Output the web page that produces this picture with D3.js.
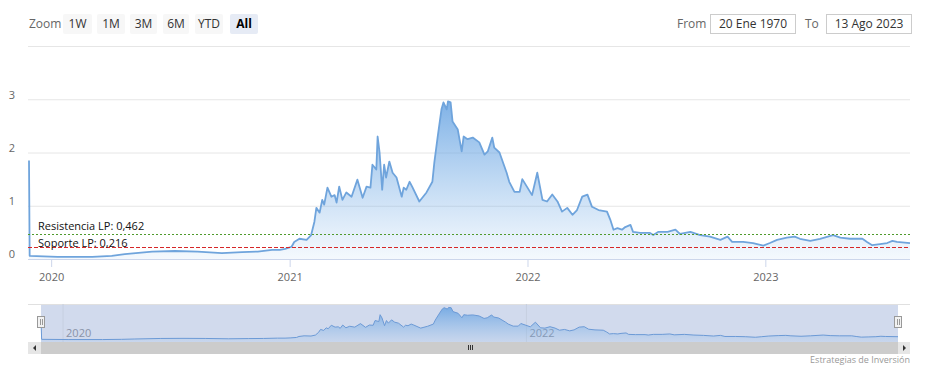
<!DOCTYPE html>
<html>
<head>
<meta charset="utf-8">
<script src="https://cdn.jsdelivr.net/npm/d3@7"></script>
<style>
body { margin: 0; background: #fff; }
text { font-family: "Open Sans", sans-serif; }
</style>
</head>
<body>
<svg id="chart" width="926" height="367"></svg>
<script>
//price data
var dates = ["2019-11-28","2019-11-29","2020-01-11","2020-03-04","2020-04-03","2020-04-23","2020-06-04","2020-07-09",
	"2020-08-13","2020-09-19","2020-10-20","2020-11-13","2020-12-05","2020-12-17","2020-12-25","2021-01-04","2021-01-08",
	"2021-01-16","2021-01-27","2021-02-03","2021-02-08","2021-02-11","2021-02-16","2021-02-20","2021-02-23","2021-02-28",
	"2021-03-06","2021-03-11","2021-03-14","2021-03-18","2021-03-23","2021-03-29","2021-04-06","2021-04-15","2021-04-23",
	"2021-04-29","2021-05-05","2021-05-08","2021-05-14","2021-05-16","2021-05-19","2021-05-23","2021-05-26","2021-05-29",
	"2021-06-03","2021-06-08","2021-06-14","2021-06-22","2021-06-25","2021-06-29","2021-07-04","2021-07-08","2021-07-19",
	"2021-07-30","2021-08-08","2021-08-11","2021-08-16","2021-08-22","2021-08-25","2021-08-30","2021-09-01","2021-09-05",
	"2021-09-08","2021-09-16","2021-09-22","2021-09-25","2021-10-01","2021-10-09","2021-10-19","2021-10-27","2021-11-01",
	"2021-11-08","2021-11-11","2021-11-19","2021-11-30","2021-12-04","2021-12-12","2021-12-20","2021-12-24","2022-01-01",
	"2022-01-08","2022-01-16","2022-01-24","2022-01-31","2022-02-08","2022-02-16","2022-02-23","2022-03-03","2022-03-11",
	"2022-03-18","2022-03-26","2022-04-03","2022-04-10","2022-04-20","2022-05-03","2022-05-08","2022-05-13","2022-05-19",
	"2022-05-26","2022-05-31","2022-06-08","2022-06-12","2022-06-23","2022-07-08","2022-07-13","2022-07-21","2022-08-04",
	"2022-08-16","2022-08-23","2022-09-08","2022-09-23","2022-10-08","2022-10-24","2022-11-04","2022-11-11","2022-11-28",
	"2022-12-13","2022-12-29","2023-01-08","2023-01-19","2023-02-03","2023-02-15","2023-02-23","2023-03-11","2023-03-26",
	"2023-04-15","2023-04-26","2023-05-11","2023-05-30","2023-06-06","2023-06-14","2023-06-26","2023-07-07","2023-07-15",
	"2023-07-22","2023-08-11"];
var prices = [1.85,0.06,0.04,0.04,0.06,0.09,0.14,0.15,
	0.14,0.11,0.13,0.14,0.17,0.17,0.19,0.23,0.32,
	0.38,0.36,0.45,0.70,0.96,0.87,1.11,1.02,1.34,
	1.17,1.20,1.06,1.36,1.11,1.25,1.17,1.49,1.15,
	1.36,1.34,1.77,1.68,2.30,2.00,1.30,1.77,1.53,
	1.83,1.62,1.53,1.17,1.34,1.30,1.45,1.36,1.08,
	1.25,1.45,1.81,2.28,2.81,2.94,2.81,2.96,2.94,
	2.58,2.43,2.02,2.30,2.25,2.28,2.19,1.96,2.02,
	2.28,2.09,2.00,1.62,1.45,1.26,1.26,1.50,1.34,
	1.20,1.62,1.11,1.08,1.21,1.08,0.89,0.96,0.83,
	0.92,1.17,1.21,0.98,0.92,0.89,0.74,0.55,0.58,
	0.55,0.60,0.64,0.51,0.49,0.49,0.45,0.51,0.51,
	0.55,0.47,0.51,0.45,0.42,0.36,0.42,0.32,0.32,
	0.30,0.25,0.30,0.36,0.40,0.42,0.38,0.34,0.38,
	0.45,0.40,0.38,0.38,0.32,0.26,0.28,0.30,0.34,
	0.32,0.30];

//axis ticks
var yTicks = [0, 1, 2, 3, 4];
var xTicks = ["2020-01-01", "2021-01-01", "2022-01-01", "2023-01-01"];
var navTicks = ["2020-01-01", "2022-01-01"];

//plot lines
var levelNames = ["Resistencia LP", "Soporte LP"];
var levelValues = [0.462, 0.216];

//range selector
var zoomButtons = ["1W", "1M", "3M", "6M", "YTD", "All"];
var rangeFrom = "20 Ene 1970";
var rangeTo = "13 Ago 2023";
var credit = "Estrategias de Inversión";

//canvas info
var left = 28, right = 910;
var top_ = 46, bottom = 259;
var navTop = 304, navBottom = 342, navLeft = 41, navRight = 898;

var parse = d3.utcParse("%Y-%m-%d");
var chart_data = dates.map(function(d, i) { return {date: parse(d), value: prices[i]}; });

var svg = d3.select("#chart");
var defs = svg.append("defs");

function gradient(id, y1, y2, op, op2) {
	var g = defs.append("linearGradient").attr("id", id)
		.attr("gradientUnits", "userSpaceOnUse")
		.attr("x1", 0).attr("x2", 0).attr("y1", y1).attr("y2", y2);
	g.append("stop").attr("offset", 0).attr("stop-color", "#5d9de0").attr("stop-opacity", op);
	g.append("stop").attr("offset", 1).attr("stop-color", "#7cb2e8").attr("stop-opacity", op2);
}

//Toolbar
function draw_toolbar() {
	var g = svg.append("g");
	g.append("text").attr("x", 29).attr("y", 28).attr("fill", "#666").attr("font-size", 12).text("Zoom");
	var bx = [63, 97, 130, 163, 195, 230];
	var bw = [29, 28, 27, 26, 28, 28];
	zoomButtons.forEach(function(b, i) {
		var sel = b == "All";
		g.append("rect").attr("x", bx[i]).attr("y", 14).attr("width", bw[i]).attr("height", 20)
			.attr("rx", 2).attr("fill", sel ? "#e6ebf5" : "#f7f7f7");
		g.append("text").attr("x", bx[i] + bw[i] / 2).attr("y", 28).attr("text-anchor", "middle")
			.attr("font-size", 12).attr("fill", sel ? "#000" : "#333")
			.attr("font-weight", sel ? "bold" : "normal").text(b);
	});

	g.append("text").attr("x", 677).attr("y", 28).attr("fill", "#666").attr("font-size", 12).text("From");
	g.append("text").attr("x", 805).attr("y", 28).attr("fill", "#666").attr("font-size", 12).text("To");
	[[710, rangeFrom], [826, rangeTo]].forEach(function(b) {
		g.append("rect").attr("x", b[0] + 0.5).attr("y", 14.5).attr("width", 85).attr("height", 19)
			.attr("fill", "#fff").attr("stroke", "#ccc");
		g.append("text").attr("x", b[0] + 43).attr("y", 28).attr("text-anchor", "middle")
			.attr("font-size", 12).attr("fill", "#333").text(b[1]);
	});
}

//Main chart
function draw_main() {
	var x = d3.scaleUtc().domain(d3.extent(chart_data, function(d) { return d.date; })).range([left + 1, right]);
	var y = d3.scaleLinear().domain([0, 4]).range([bottom, top_]);

	var yAxis = svg.append("g")
		.attr("transform", "translate(" + right + ",0)")
		.call(d3.axisLeft(y).tickValues(yTicks).tickSize(right - left).tickPadding(13)
			.tickFormat(function(d) { return d == 4 ? "" : d; }));
	yAxis.select(".domain").remove();
	yAxis.selectAll("line").attr("stroke", "#e6e6e6");
	yAxis.selectAll("text").attr("fill", "#666").attr("font-size", 11).attr("dy", "-0.1em")
		.attr("font-family", "Open Sans");

	gradient("areaFill", y(3), bottom, 0.8, 0.08);

	var area = d3.area()
		.x(function(d) { return x(d.date); })
		.y0(bottom)
		.y1(function(d) { return y(d.value); });
	var line = d3.line()
		.x(function(d) { return x(d.date); })
		.y(function(d) { return y(d.value); });

	svg.append("path").datum(chart_data).attr("d", area).attr("fill", "url(#areaFill)");
	svg.append("path").datum(chart_data).attr("d", line)
		.attr("fill", "none").attr("stroke", "#6fa4dc").attr("stroke-width", 1.8)
		.attr("stroke-linejoin", "round");

	var xAxis = svg.append("g")
		.attr("transform", "translate(0," + bottom + ")")
		.call(d3.axisBottom(x).tickValues(xTicks.map(parse)).tickSize(8).tickPadding(6)
			.tickFormat(d3.utcFormat("%Y")));
	xAxis.select(".domain").attr("stroke", "#ccd6eb").attr("d", "M" + left + ",0.5H" + right);
	xAxis.selectAll("line").attr("stroke", "#ccd6eb");
	xAxis.selectAll("text").attr("fill", "#666").attr("font-size", 11).attr("font-family", "Open Sans");

	//support / resistance lines
	var levelColors = ["#4f9a2c", "#d62728"];
	var levelDash = ["2,2", "4,2"];
	var labelShift = [5, 1];
	levelValues.forEach(function(v, i) {
		var ly = Math.round(y(v)) + 0.5;
		svg.append("line").attr("x1", left).attr("x2", right).attr("y1", ly).attr("y2", ly)
			.attr("stroke", levelColors[i]).attr("stroke-width", 1.1).attr("stroke-dasharray", levelDash[i]);
		svg.append("text").attr("x", 38).attr("y", ly - labelShift[i]).attr("font-size", 11).attr("fill", "#111")
			.text(levelNames[i] + ": " + String(v).replace(".", ","));
	});
}

//Navigator and scrollbar
function draw_navigator() {
	var nx = d3.scaleUtc().domain(d3.extent(chart_data, function(d) { return d.date; })).range([navLeft, navRight]);
	var ny = d3.scaleLinear().domain([0, 3]).range([navBottom - 2, navTop + 3]);

	svg.append("line").attr("x1", left).attr("x2", right).attr("y1", navTop + 0.5).attr("y2", navTop + 0.5)
		.attr("stroke", "#e0e0e0");
	svg.append("rect").attr("x", navLeft).attr("y", navTop + 1).attr("width", navRight - navLeft)
		.attr("height", navBottom - navTop - 1).attr("fill", "rgba(102,133,194,0.3)");

	var g = svg.append("g").attr("transform", "translate(0," + navBottom + ")")
		.call(d3.axisBottom(nx).tickValues(navTicks.map(parse)).tickSize(-(navBottom - navTop))
			.tickFormat(d3.utcFormat("%Y")));
	g.select(".domain").remove();
	g.selectAll("line").attr("stroke", "#c6cfe0");
	g.selectAll("text").attr("fill", "#8a93a8").attr("font-size", 11).attr("text-anchor", "start")
		.attr("x", 3).attr("y", -5).attr("dy", 0).attr("font-family", "Open Sans");

	gradient("navFill", navTop, navBottom, 0.85, 0.1);
	var area = d3.area()
		.x(function(d) { return nx(d.date); })
		.y0(navBottom)
		.y1(function(d) { return ny(d.value); });
	var line = d3.line()
		.x(function(d) { return nx(d.date); })
		.y(function(d) { return ny(d.value); });
	svg.append("path").datum(chart_data).attr("d", area).attr("fill", "url(#navFill)");
	svg.append("path").datum(chart_data).attr("d", line).attr("fill", "none")
		.attr("stroke", "#6c9ad6").attr("stroke-width", 1);

	//handles
	[navLeft, navRight].forEach(function(hx) {
		svg.append("rect").attr("x", hx - 3.5).attr("y", 316.5).attr("width", 7).attr("height", 11)
			.attr("fill", "#f2f2f2").attr("stroke", "#999");
		svg.append("line").attr("x1", hx - 0.5).attr("x2", hx - 0.5).attr("y1", 319).attr("y2", 325)
			.attr("stroke", "#999");
		svg.append("line").attr("x1", hx + 1.5).attr("x2", hx + 1.5).attr("y1", 319).attr("y2", 325)
			.attr("stroke", "#999");
	});

	//scrollbar
	var sy = navBottom, sh = 12;
	svg.append("rect").attr("x", left).attr("y", sy).attr("width", right - left).attr("height", sh).attr("fill", "#f2f2f2");
	svg.append("rect").attr("x", navLeft).attr("y", sy).attr("width", navRight - navLeft).attr("height", sh).attr("fill", "#cccccc");
	svg.append("rect").attr("x", left).attr("y", sy).attr("width", navLeft - left).attr("height", sh).attr("fill", "#e6e6e6");
	svg.append("rect").attr("x", navRight).attr("y", sy).attr("width", right - navRight).attr("height", sh).attr("fill", "#e6e6e6");
	svg.append("path").attr("d", "M36,345 L36,351 L33,348 Z").attr("fill", "#333");
	svg.append("path").attr("d", "M903,345 L903,351 L906,348 Z").attr("fill", "#333");
	var cx = Math.round((navLeft + navRight) / 2);
	[-2, 0, 2].forEach(function(o) {
		svg.append("line").attr("x1", cx + o + 0.5).attr("x2", cx + o + 0.5).attr("y1", sy + 3).attr("y2", sy + 8)
			.attr("stroke", "#333");
	});

	svg.append("text").attr("x", right).attr("y", 363).attr("text-anchor", "end")
		.attr("font-size", 9).attr("fill", "#999").text(credit);
}

draw_toolbar();
draw_main();
draw_navigator();
</script>
</body>
</html>
